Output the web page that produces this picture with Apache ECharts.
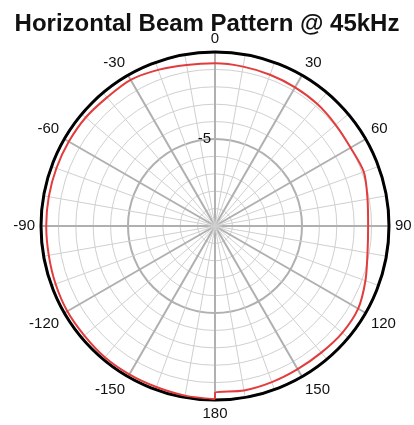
<!DOCTYPE html>
<html>
<head>
<meta charset="utf-8">
<script src="https://cdn.jsdelivr.net/npm/echarts@6/dist/echarts.min.js"></script>
<style>
  html, body { margin: 0; padding: 0; background: #fff; }
  .polar { width: 414px; height: 425px; }
</style>
</head>
<body>
<div class="polar"></div>
<script>
// 水平波束图 @ 45kHz

// 角度 (度) 和 相对电平 (dB)
const angles = [-180, -170, -160, -150, -140, -130, -120, -110, -100, -90,
  -80, -70, -60, -50, -40, -30, -20, -10, 0, 10, 20, 30, 40, 50, 60, 70, 80,
  90, 100, 110, 120, 130, 140, 150, 160, 170, 180];
const levels = [-0.05, -0.1, -0.15, -0.15, -0.15, -0.2, -0.2, -0.25, -0.3, -0.3,
  -0.3, -0.3, -0.3, -0.3, -0.35, -0.3, -0.45, -0.6, -0.65, -0.7, -0.75, -0.8,
  -0.85, -0.95, -1.0, -0.9, -1.1, -1.2, -1.1, -0.8, -0.5, -0.45, -0.5, -0.5,
  -0.45, -0.4, -0.4];
const radiusLabels = [-5];

(function () {
    let myChart = echarts.init(document.querySelector('.polar'));

    // 数据: [半径, 角度]，负角度换成 0~360
    let data = [];
    for (var i = 0; i < angles.length; i++) {
        let a = angles[i] < 0 ? angles[i] + 360 : angles[i];
        data.push([levels[i], a]);
    }
    // 在 180 处闭合
    data.push([levels[0], 180]);

    const font = 'Liberation Sans, Arial, sans-serif';

    let option = {
        backgroundColor: '#fff',
        animation: false,
        title: {
            text: 'Horizontal Beam Pattern @ 45kHz',
            left: 'center',
            top: 7,
            textStyle: {
                fontFamily: font,
                fontSize: 24,
                fontWeight: 'bold',
                color: '#111'
            }
        },
        polar: {
            center: [215, 226],
            radius: 174
        },
        angleAxis: {
            type: 'value',
            min: 0,
            max: 360,
            interval: 30,
            startAngle: 90,
            clockwise: true,
            axisLine: { lineStyle: { color: '#000', width: 3 } },
            axisTick: { show: false },
            axisLabel: {
                margin: 6,
                fontFamily: font,
                fontSize: 15,
                color: '#111',
                formatter: function (v) {
                    return v > 180 ? String(v - 360) : String(v);
                }
            },
            splitLine: { lineStyle: { color: '#b0b0b0', width: 2 } },
            minorTick: { show: false, splitNumber: 3 },
            minorSplitLine: { show: true, lineStyle: { color: '#d0d0d0', width: 1 } }
        },
        radiusAxis: {
            type: 'value',
            min: -10,
            max: 0,
            interval: 5,
            axisLine: { show: false },
            axisTick: { show: false },
            axisLabel: {
                margin: 4,
                fontFamily: font,
                fontSize: 15,
                color: '#111',
                formatter: function (v) {
                    return radiusLabels.indexOf(v) >= 0 ? String(v) : '';
                }
            },
            splitLine: { lineStyle: { color: '#b0b0b0', width: 2 } },
            minorTick: { show: false, splitNumber: 5 },
            minorSplitLine: { show: true, lineStyle: { color: '#d0d0d0', width: 1 } }
        },
        series: [
            {
                type: 'line',
                coordinateSystem: 'polar',
                showSymbol: false,
                smooth: 0.3,
                lineStyle: { color: '#e23c3c', width: 2 },
                data: data
            }
        ]
    };

    myChart.setOption(option);
})();
</script>
</body>
</html>
